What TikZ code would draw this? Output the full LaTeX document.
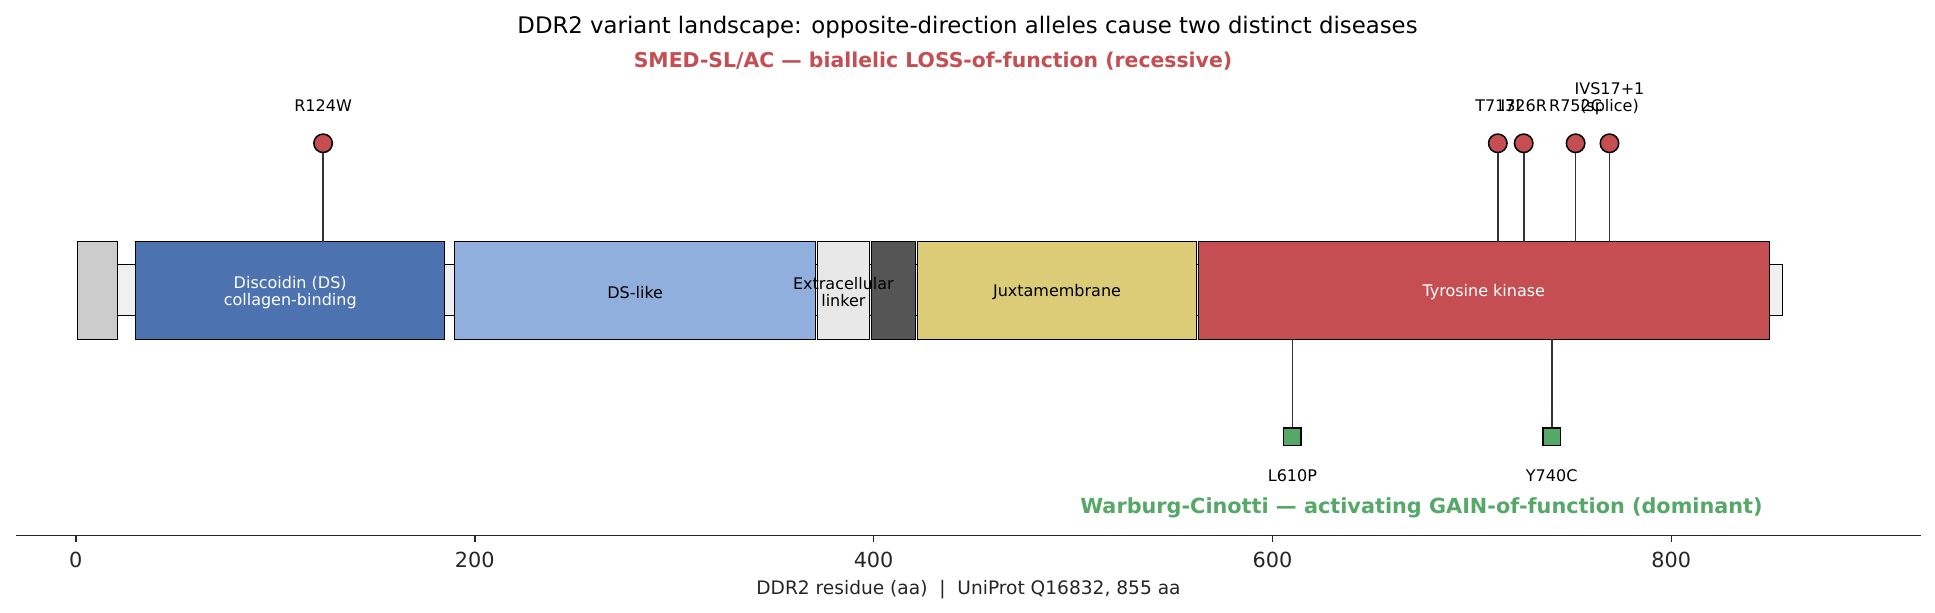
\documentclass[tikz,border=0pt]{standalone}
\usepackage{fontspec}
\setmainfont{DejaVu Sans}
\definecolor{dsblue}{HTML}{4C72B0}
\definecolor{dslike}{HTML}{90AFDC}
\definecolor{linkc}{HTML}{E8E8E8}
\definecolor{tmc}{HTML}{555555}
\definecolor{juxc}{HTML}{DDCC77}
\definecolor{kin}{HTML}{C44E52}
\definecolor{gain}{HTML}{55A868}
\definecolor{sigc}{HTML}{CCCCCC}
\definecolor{bbc}{HTML}{F0F0F0}
\definecolor{stemc}{HTML}{333333}
\definecolor{axc}{HTML}{262626}
\begin{document}
\begin{tikzpicture}[x=0.5pt,y=-0.5pt,
  dom/.style={draw=black,line width=0.5pt},
  stem/.style={draw=stemc,line width=0.85pt},
  lof/.style={circle,draw=black,fill=kin,line width=0.75pt,minimum size=9.25pt,inner sep=0pt},
  gof/.style={rectangle,draw=black,fill=gain,line width=0.75pt,minimum size=8.75pt,inner sep=0pt},
  lab/.style={font=\fontsize{8}{8.4}\selectfont,anchor=base,align=center,inner sep=0pt},
  domlab/.style={font=\fontsize{8}{8.65}\selectfont,align=center,inner sep=0pt},
  ticklab/.style={font=\fontsize{10.4}{12}\selectfont,anchor=base,inner sep=0pt,text=axc},
  axisline/.style={draw=axc,line width=0.8pt}]
\fill[white] (0,0) rectangle (1935,613);
\useasboundingbox (0,0) rectangle (1935,613);

% titles
\node[font=\fontsize{11.4}{13}\selectfont,anchor=base,inner sep=0pt] (title) at (967.5,33.3)
  {DDR2 variant landscape: opposite-direction alleles cause two distinct diseases};
\node[font=\fontsize{10.2}{12}\selectfont\bfseries,text=kin,anchor=base,inner sep=0pt] (loftitle) at (933,67.7)
  {SMED-SL/AC — biallelic LOSS-of-function (recessive)};
\node[font=\fontsize{10.4}{12}\selectfont\bfseries,text=gain,anchor=base east,inner sep=0pt] (goftitle) at (1763,514)
  {Warburg-Cinotti — activating GAIN-of-function (dominant)};

% backbone and domains
\draw[dom,fill=bbc] (77.8,265) rectangle (1782.5,315.3);
\draw[dom,fill=sigc] (77.8,241.7) rectangle (117.7,339.3);
\draw[dom,fill=dsblue] (135.6,241.7) rectangle (444.8,339.3);
\draw[dom,fill=dslike] (454.7,241.7) rectangle (815.7,339.3);
\draw[dom,fill=linkc] (817.7,241.7) rectangle (869.6,339.3);
\draw[dom,fill=tmc] (871.6,241.7) rectangle (915.4,339.3);
\draw[dom,fill=juxc] (917.4,241.7) rectangle (1196.7,339.3);
\draw[dom,fill=kin] (1198.7,241.7) rectangle (1769.0,339.3);

\node[domlab,text=white] (lds) at (290.2,292.3) {Discoidin (DS)\\collagen-binding};
\node[domlab] (ldsl) at (635.2,292.3) {DS-like};
\node[domlab] (llink) at (843.4,292.3) {Extracellular\\linker};
\node[domlab] (ljux) at (1057,292.3) {Juxtamembrane};
\node[domlab,text=white] (lkin) at (1483.8,292.3) {Tyrosine kinase};

% loss-of-function lollipops (above)
\foreach \n/\x in {m124/323.1,m713/1497.8,m726/1523.7,m752/1575.6,m769/1609.5}{
  \coordinate (b\n) at (\x,241.7);
  \node[lof] (\n) at (\x,143.3) {};
  \draw[stem] (b\n) -- (\n);
}
\node[lab] (t124) at (323.1,111.5) {R124W};
\node[lab] (t713) at (1497.8,111.5) {T713I};
\node[lab] (t726) at (1523.7,111.5) {I726R};
\node[lab] (t752) at (1575.6,111.5) {R752C};
\node[lab] (t769) at (1609.5,111.5) {IVS17+1\\(splice)};

% gain-of-function lollipops (below)
\foreach \n/\x in {g610/1292.4,g740/1551.7}{
  \coordinate (b\n) at (\x,339.3);
  \node[gof] (\n) at (\x,436.8) {};
  \draw[stem] (b\n) -- (\n);
}
\node[lab] (t610) at (1292.4,481.5) {L610P};
\node[lab] (t740) at (1551.7,481.5) {Y740C};

% axis
\coordinate (axl) at (16,535.7);
\coordinate (axr) at (1920.6,535.7);
\draw[axisline] (axl) -- (axr);
\foreach \v/\x in {0/75.8,200/474.7,400/873.6,600/1272.4,800/1671.3}{
  \coordinate (tk\v) at (\x,535.7);
  \coordinate (te\v) at (\x,542.5);
  \draw[axisline] (tk\v) -- (te\v);
  \node[ticklab] (tl\v) at (\x,567.3) {\v};
}
\node[font=\fontsize{9.3}{11}\selectfont,anchor=base,inner sep=0pt,text=axc] (xlab) at (968.5,595)
  {DDR2 residue (aa)\ \ |\ \ UniProt Q16832, 855 aa};
\end{tikzpicture}
\end{document}
